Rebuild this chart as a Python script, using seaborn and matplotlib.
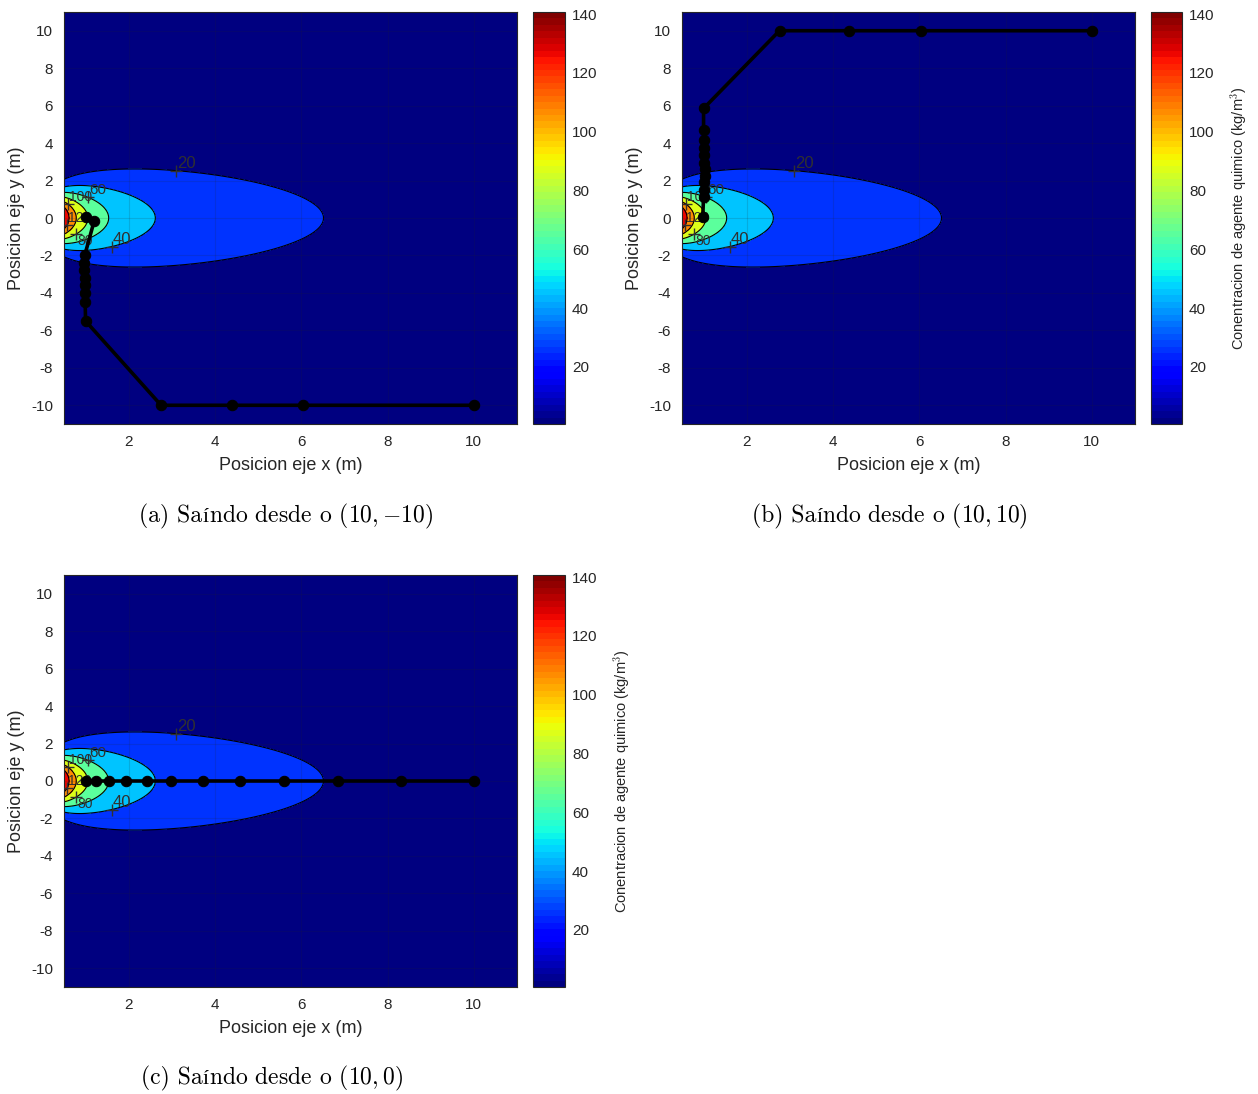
import numpy as np
import pandas as pd
import matplotlib
matplotlib.use("Agg")
import matplotlib.pyplot as plt
from matplotlib import colors as mcolors
from matplotlib.transforms import ScaledTranslation
from matplotlib.offsetbox import TextArea, HPacker, AnchoredOffsetbox
import seaborn as sns

# ---- plume model parameters (concentration field) ----
X_RANGE = (0.5, 11.0)
Y_RANGE = (-11.0, 11.0)
PLUME_A = 83.1        # centreline strength
PLUME_P = 0.76        # centreline decay exponent
SIGMA_A = 1.43        # lateral spread coefficient
SIGMA_B = 0.45        # lateral spread exponent
C_LIMITS = (0.6, 140.7)
LEVELS = [0, 20, 40, 60, 80, 100, 120, 140, 160]
LABEL_LEVELS = [20, 40, 60, 80, 100, 120]
LABEL_SPOTS = [(3.1, 2.6), (1.6, -1.5), (1.05, 1.05), (0.8, -0.9), (0.6, 0.75), (0.55, -0.35)]
LABEL_SIZES = [12, 12, 11, 10, 10, 10]
LABEL_VA = ["bottom", "bottom", "bottom", "top", "bottom", "bottom"]
CBAR_TICKS = [20, 40, 60, 80, 100, 120, 140]
X_TICKS = [2, 4, 6, 8, 10]
Y_TICKS = [-10, -8, -6, -4, -2, 0, 2, 4, 6, 8, 10]

# ---- escape trajectories ----
path_a_x = [10.0, 6.05, 4.4, 2.75, 1.0, 0.99, 0.98, 0.98, 0.98, 0.97, 0.97, 0.98, 1.2, 1.0]
path_a_y = [-10.0, -10.0, -10.0, -10.0, -5.5, -4.5, -4.0, -3.6, -3.2, -2.8, -2.4, -2.0, -0.15, 0.08]

path_b_x = [10.0, 6.05, 4.38, 2.76, 1.0, 1.0, 1.0, 1.02, 1.02, 1.02, 1.03, 1.03, 1.02, 1.02, 1.0, 0.98]
path_b_y = [10.0, 10.0, 10.0, 10.0, 5.85, 4.7, 4.15, 3.75, 3.35, 2.95, 2.6, 2.25, 1.9, 1.5, 1.1, 0.05]

path_c_x = [10.0, 8.3, 6.84, 5.59, 4.57, 3.72, 2.99, 2.42, 1.93, 1.54, 1.24, 1.0]
path_c_y = [0.0, 0.0, 0.0, 0.0, 0.0, 0.0, 0.0, 0.0, 0.0, 0.0, 0.0, 0.0]

# captions split so the accented letter comes from a font that has it
captions = [
    ("(a) Sa", "í", "ndo desde o $(10,{-}10)$"),
    ("(b) Sa", "í", "ndo desde o $(10,10)$"),
    ("(c) Sa", "í", "ndo desde o $(10,0)$"),
]
x_label = "Posicion eje x (m)"
y_label = "Posicion eje y (m)"
cbar_label = "Conentracion de agente quimico (kg/m$^3$)"

sns.set_theme(style="white")
plt.rcParams["font.family"] = ["Liberation Sans", "DejaVu Sans"]
plt.rcParams["axes.unicode_minus"] = False
plt.rcParams["mathtext.fontset"] = "cm"

TXT = "#262626"

# concentration field
gx = np.linspace(X_RANGE[0], X_RANGE[1], 420)
gy = np.linspace(Y_RANGE[0], Y_RANGE[1], 500)
XX, YY = np.meshgrid(gx, gy)
sigma = SIGMA_A * XX ** SIGMA_B
CC = PLUME_A / XX ** PLUME_P * np.exp(-YY ** 2 / (2 * sigma ** 2))

cmap = plt.get_cmap("jet", 64)
norm = mcolors.Normalize(vmin=C_LIMITS[0], vmax=C_LIMITS[1])
# each filled band takes its colour a little above its lower level
band_colors = [cmap(0.0)] + [
    cmap(norm(lo + 0.3 * (hi - lo))) for lo, hi in zip(LEVELS[1:-1], LEVELS[2:])
]

fig = plt.figure(figsize=(12.58, 10.94), dpi=100)
W, H = 1258, 1094


def frac(left, top, width, height):
    return [left / W, (H - top - height) / H, width / W, height / H]


panels = [
    dict(ax=frac(64, 12, 453, 412), cax=frac(533, 12, 32, 412), px=path_a_x, py=path_a_y,
         cap=(286, 516), label=False),
    dict(ax=frac(682, 12, 453, 412), cax=frac(1151, 12, 31, 412), px=path_b_x, py=path_b_y,
         cap=(890, 516), label=True),
    dict(ax=frac(64, 575, 453, 412), cax=frac(533, 575, 32, 412), px=path_c_x, py=path_c_y,
         cap=(272, 1078), label=True),
]

for i, p in enumerate(panels):
    ax = fig.add_axes(p["ax"])
    ax.contourf(XX, YY, CC, levels=LEVELS, colors=band_colors, zorder=1)
    cs = ax.contour(XX, YY, CC, levels=LEVELS[1:-1], colors="black", linewidths=0.8, zorder=2)

    texts = ax.clabel(cs, levels=LABEL_LEVELS, manual=LABEL_SPOTS, inline=False,
                      fontsize=12, colors="#303030", fmt="%d")
    for t in texts:
        x0, y0 = t.get_position()
        lvl = int(round(float(t.get_text())))
        k = LABEL_LEVELS.index(lvl) if lvl in LABEL_LEVELS else 0
        ax.plot([x0], [y0], marker="+", color="#303030", markersize=8, mew=1.0, zorder=3)
        t.set_fontsize(LABEL_SIZES[k])
        t.set_rotation(0)
        t.set_transform_rotates_text(False)
        t.set_ha("left")
        t.set_va(LABEL_VA[k])
        t.set_transform(ax.transData + ScaledTranslation(1 / 100, 0, fig.dpi_scale_trans))
        t.set_zorder(4)

    df = pd.DataFrame({"x": p["px"], "y": p["py"]})
    sns.lineplot(data=df, x="x", y="y", sort=False, estimator=None, ax=ax, color="black",
                 linewidth=2.6, marker="o", markersize=7.5, markeredgecolor="black", zorder=5)

    ax.set_xlim(*X_RANGE)
    ax.set_ylim(*Y_RANGE)
    ax.set_xticks(X_TICKS)
    ax.set_yticks(Y_TICKS)
    ax.grid(True, color="#262626", alpha=0.15, linewidth=0.8, zorder=3)
    ax.set_axisbelow(False)
    ax.tick_params(direction="in", length=4, labelsize=11, colors=TXT, pad=8)
    for s in ax.spines.values():
        s.set_color("#262626")
        s.set_linewidth(0.8)
    ax.set_xlabel(x_label, fontsize=13, color=TXT, labelpad=6)
    ax.set_ylabel(y_label, fontsize=13, color=TXT, labelpad=4)

    cax = fig.add_axes(p["cax"])
    sm = matplotlib.cm.ScalarMappable(norm=norm, cmap=cmap)
    cb = fig.colorbar(sm, cax=cax, ticks=CBAR_TICKS)
    cb.outline.set_edgecolor("#262626")
    cb.outline.set_linewidth(0.8)
    cax.tick_params(direction="in", length=3, labelsize=11, colors=TXT, pad=5)
    if p["label"]:
        cb.set_label(cbar_label, fontsize=10.5, color=TXT, labelpad=10)

    # caption under each panel
    head, accent, tail = captions[i]
    cm_props = dict(fontsize=17, family="cmr10", color="black")
    parts = [
        TextArea(head, textprops=cm_props),
        TextArea(accent, textprops=dict(fontsize=16, family="Liberation Serif", color="black")),
        TextArea(tail, textprops=cm_props),
    ]
    pack = HPacker(children=parts, align="baseline", pad=0, sep=0)
    box = AnchoredOffsetbox(loc="center", child=pack, frameon=False, pad=0, borderpad=0,
                            bbox_to_anchor=(p["cap"][0] / W, 1 - p["cap"][1] / H),
                            bbox_transform=fig.transFigure)
    fig.add_artist(box)

fig.savefig("out.png", dpi=100, facecolor="white")
